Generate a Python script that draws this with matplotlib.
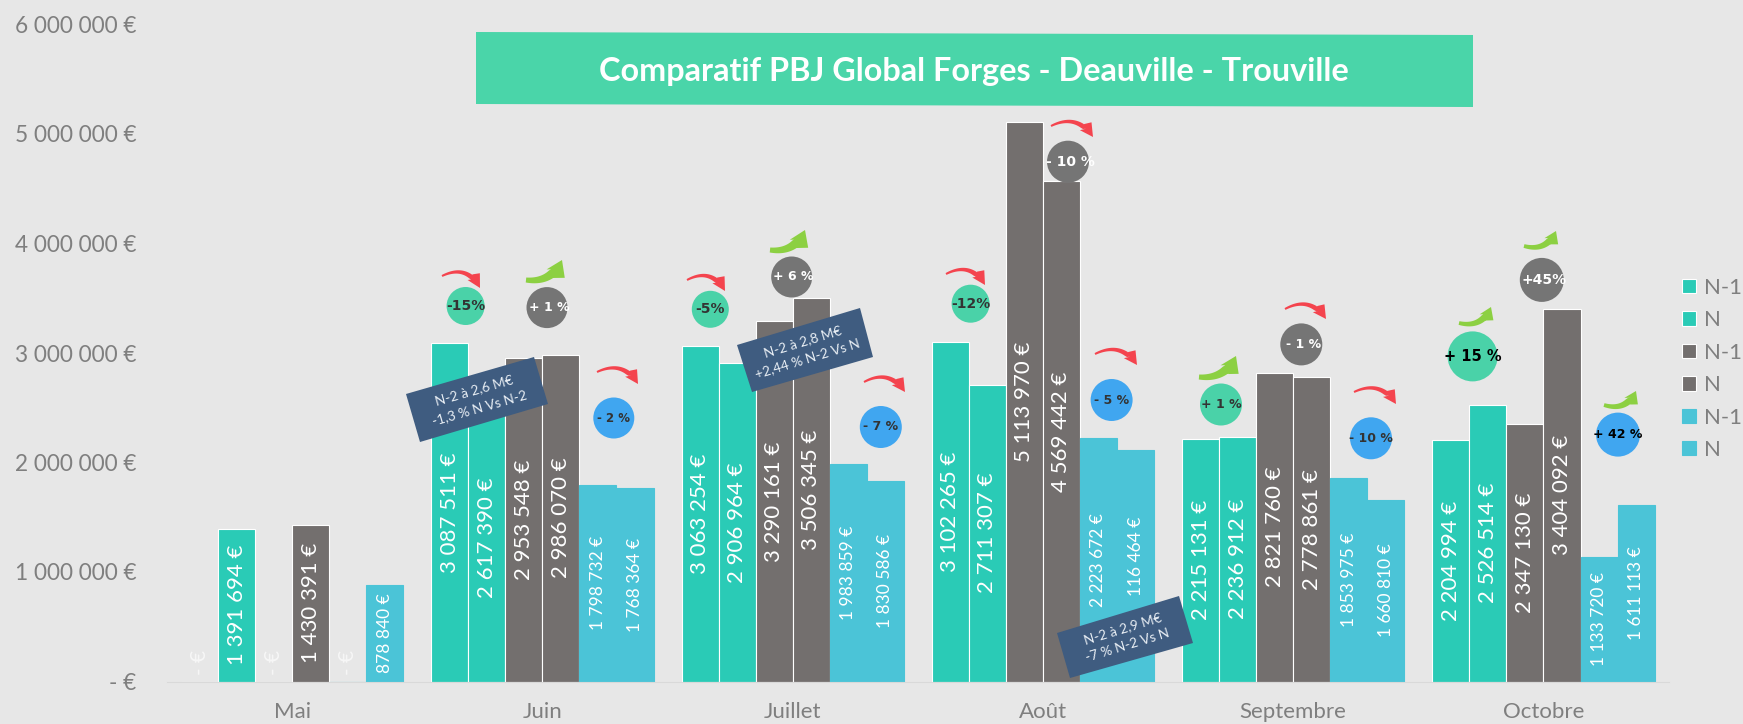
# -*- coding: utf-8 -*-
import numpy as np
import matplotlib
matplotlib.use("Agg")
import matplotlib.pyplot as plt
from matplotlib.patches import Ellipse, Polygon
from matplotlib.transforms import Affine2D

plt.rcParams['font.family'] = ['Lato', 'DejaVu Sans']

W, H = 1743, 724

months = ['Mai', 'Juin', 'Juillet', 'Août', 'Septembre', 'Octobre']
series_names = ['N-1', 'N', 'N-1', 'N', 'N-1', 'N']
forges_n1 = [0, 3087511, 3063254, 3102265, 2215131, 2204994]
forges_n = [1391694, 2617390, 2906964, 2711307, 2236912, 2526514]
deauville_n1 = [0, 2953548, 3290161, 5113970, 2821760, 2347130]
deauville_n = [1430391, 2986070, 3506345, 4569442, 2778861, 3404092]
trouville_n1 = [0, 1798732, 1983859, 2223672, 1853975, 1133720]
trouville_n = [878840, 1768364, 1830586, 2116464, 1660810, 1611113]

y_ticks = [0, 1000000, 2000000, 3000000, 4000000, 5000000, 6000000]
y_labels = ['- €', '1 000 000 €', '2 000 000 €', '3 000 000 €', '4 000 000 €', '5 000 000 €', '6 000 000 €']

title = 'Comparatif PBJ Global Forges - Deauville - Trouville'

# (text, x, y, diameter, background, text colour, font size) in pixels of the picture
badges = [
    ('-15%', 465.6, 306, 38, '#4AD2A8', '#333333', 10),
    ('+ 1 %', 547, 307.6, 41, '#757575', 'white', 9),
    ('- 2 %', 613.8, 418, 41, '#40A6F0', '#333333', 8.5),
    ('-5%', 710.3, 309.3, 37, '#4AD2A8', '#333333', 10),
    ('+ 6 %', 791.7, 277, 41, '#757575', 'white', 9),
    ('- 7 %', 880.8, 427, 42, '#40A6F0', '#333333', 9),
    ('-12%', 970.6, 303.7, 38, '#4AD2A8', '#333333', 10),
    ('- 10 %', 1068, 161.7, 42, '#757575', 'white', 10),
    ('- 5 %', 1111.6, 400, 42, '#40A6F0', '#333333', 9),
    ('+ 1 %', 1221, 404.5, 42, '#4AD2A8', '#333333', 9),
    ('- 1 %', 1301.3, 344.4, 42, '#757575', 'white', 9),
    ('- 10 %', 1371, 438.3, 42, '#40A6F0', '#333333', 9),
    ('+ 15 %', 1472.6, 356.4, 50, '#4AD2A8', 'black', 10.5),
    ('+45%', 1541.8, 279.9, 44, '#757575', 'white', 10),
    ('+ 42 %', 1618, 434.6, 44, '#40A6F0', 'black', 9),
]

# tail and tip of the curved arrows, in pixels
red_arrows = [
    (442, 276, 480, 288), (597, 372, 638, 384), (687, 280, 725, 291),
    (864, 382, 905, 392), (946, 274, 985, 285), (1051, 126, 1093, 137),
    (1095, 354, 1137, 365), (1285, 309, 1326, 319), (1354, 392, 1396, 404),
]
green_arrows = [
    (526, 280, 562, 260, 1.0), (770, 250, 805, 230, 1.0), (1199, 377, 1236, 356, 1.0),
    (1459, 323, 1491, 307, 0.75), (1524, 246, 1556, 231, 0.75), (1604, 405, 1636, 391, 0.75),
]

# corners of the tilted notes, then the text and its place
notes = [
    ([(406, 394), (534, 357), (548, 404), (420, 442)], 'N-2 à 2,6 M€\n-1,3 % N Vs N-2', 477, 399, 16),
    ([(737, 345), (860, 308), (873, 357), (752, 392)], 'N-2 à 2,8 M€\n+2,44 % N-2 Vs N', 805, 350, 17),
    ([(1057, 633), (1179, 596), (1193, 643), (1070, 678)], 'N-2 à 2,9 M€\n-7 % N-2 Vs N', 1125, 637, 17),
]


def euro(v):
    return f'{v:,}'.replace(',', ' ') + ' €'


def swoosh(x0, y0, x1, y1, bulge, width0, width1, head_len, head_w):
    # outline of a bent arrow that grows towards its head
    p0, tip = np.array([x0, y0], float), np.array([x1, y1], float)
    chord = tip - p0
    normal = np.array([chord[1], -chord[0]]) / np.hypot(*chord)
    ctrl = (p0 + tip) / 2 + normal * bulge
    t = np.linspace(0, 1, 30)[:, None]
    curve = (1 - t) ** 2 * p0 + 2 * t * (1 - t) * ctrl + t ** 2 * tip
    end_dir = (tip - ctrl) / np.hypot(*(tip - ctrl))
    base = tip - end_dir * head_len
    keep = ((curve - base) @ end_dir) < 0
    curve = np.vstack([curve[keep], base])
    tang = np.gradient(curve, axis=0)
    norm = np.column_stack([tang[:, 1], -tang[:, 0]]) / np.hypot(tang[:, 0], tang[:, 1])[:, None]
    half = np.linspace(width0, width1, len(curve))[:, None] / 2
    side = np.array([end_dir[1], -end_dir[0]])
    return np.vstack([curve + norm * half, base + side * head_w / 2, tip, base - side * head_w / 2,
                      (curve - norm * half)[::-1]])


fig = plt.figure(figsize=(W / 100, H / 100), dpi=100, facecolor='#E7E7E7')
ax = fig.add_axes([167 / W, 1 - 681.5 / H, (1668.6 - 167) / W, (681.5 - 24.5) / H])
ax.set_facecolor('none')
px = Affine2D().scale(1, -1).translate(0, H)

teal, grey, blue = '#2ACBB6', '#736F6E', '#4BC4D7'
all_series = [forges_n1, forges_n, deauville_n1, deauville_n, trouville_n1, trouville_n]
colors = [teal, teal, grey, grey, blue, blue]
label_sizes = [16, 16, 16, 16, 12.5, 12.5]
bar_w = 0.148

handles = []
for k, vals in enumerate(all_series):
    xs = [i + (k - 2.5) * bar_w for i in range(len(months))]
    edge = colors[k] if k >= 4 else 'white'
    bars = ax.bar(xs, vals, bar_w, color=colors[k], edgecolor=edge, linewidth=0.8, label=series_names[k])
    handles.append(bars)
    texts = ax.bar_label(bars, labels=[euro(v) if v else '' for v in vals], label_type='center',
                         rotation=90, color='white', fontsize=label_sizes[k])
    for x, v in zip(xs, vals):
        if v == 0:
            ax.annotate('- €', (x, 0), xytext=(0, 5), textcoords='offset points', rotation=90,
                        ha='center', va='bottom', color='#F7F7F7', fontsize=15)
    if k == 5:
        # the note hides the first digit of this one in the original
        texts[3].set_text('116 464 €')
        texts[3].xyann = (0, 7)

ax.set_xlim(-0.5, 5.5)
ax.set_ylim(0, 6000000)
ax.set_xticks(range(len(months)), months)
ax.set_yticks(y_ticks, y_labels)
ax.tick_params(axis='both', length=0, labelcolor='#7F7F7F', labelsize=16.3)
ax.tick_params(axis='y', pad=22)
ax.tick_params(axis='x', pad=15, labelsize=16)
for side in ['top', 'left', 'right']:
    ax.spines[side].set_visible(False)
ax.spines['bottom'].set_color('#D9D9D9')

leg = ax.legend(handles=handles, loc='center left', bbox_to_anchor=(1682 / W, 1 - 369 / H),
                bbox_transform=fig.transFigure, frameon=False, fontsize=16, labelcolor='#7F7F7F',
                handlelength=0.62, handleheight=0.62, handletextpad=0.36, labelspacing=0.56,
                borderpad=0, borderaxespad=0)

# title band
fig.add_artist(Polygon([(476, 32), (1473, 35), (1473, 107), (476, 104)], closed=True,
                       transform=px, facecolor='#4AD5A9', edgecolor='none', zorder=5))
fig.text(974, 71.5, title, transform=px, ha='center', va='center', color='white',
         fontsize=23.3, fontweight='bold', zorder=6)

for pts, txt, tx, ty, rot in notes:
    fig.add_artist(Polygon(pts, closed=True, transform=px, facecolor='#3F5C80', edgecolor='none', zorder=5))
    fig.text(tx, ty, txt, transform=px, ha='center', va='center', rotation=rot, color='#E8EEF4',
             fontsize=9.8, linespacing=1.6, rotation_mode='anchor', zorder=6)

for txt, x, y, d, bg, fg, size in badges:
    fig.add_artist(Ellipse((x, y), d, d, transform=px, facecolor=bg, edgecolor='none', zorder=5))
    fig.text(x + (2 if fg == 'white' else 0), y, txt, transform=px, ha='center', va='center', color=fg,
             fontsize=size, fontweight='bold', family='DejaVu Sans', zorder=6)

for x0, y0, x1, y1 in red_arrows:
    fig.add_artist(Polygon(swoosh(x0, y0, x1, y1, 19, 2, 5, 13, 14), closed=True, transform=px,
                           facecolor='#F4444E', edgecolor='none', zorder=5))
for x0, y0, x1, y1, s in green_arrows:
    fig.add_artist(Polygon(swoosh(x0, y0, x1, y1, -15, 5 * s, 9 * s, 15 * s, 20 * s), closed=True, transform=px,
                           facecolor='#8CD042', edgecolor='none', zorder=5))

fig.savefig('out.png', dpi=100, facecolor=fig.get_facecolor())
